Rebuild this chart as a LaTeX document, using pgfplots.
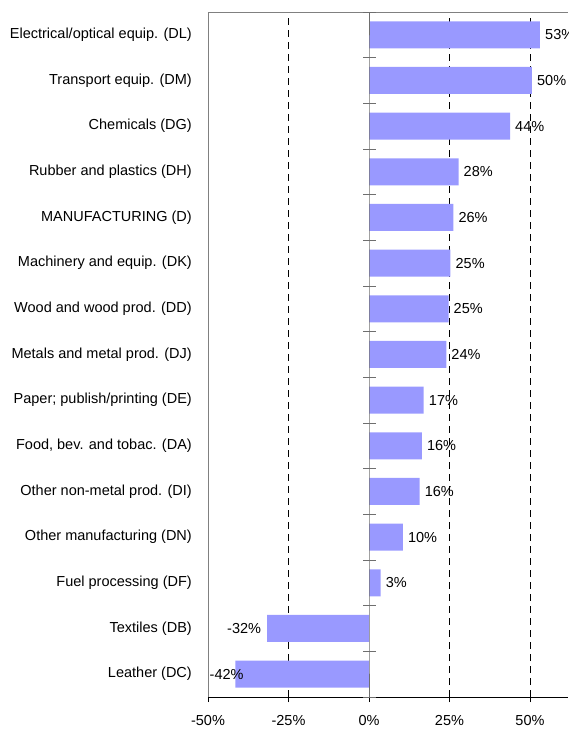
\documentclass[border=0pt]{standalone}
\usepackage{pgfplots}
\pgfplotsset{compat=1.18}
\usepackage{fontspec}
\setmainfont{Liberation Sans}
\definecolor{barblue}{RGB}{153,153,255}
\definecolor{zerogray}{RGB}{110,110,110}
\newcommand{\lblfont}{\fontsize{14.5}{17}\selectfont}
\begin{document}
\begin{tikzpicture}
\begin{axis}[
  scale only axis,
  width=360pt, height=685pt,
  xmin=-50, xmax=61.8,
  ymin=-0.5, ymax=14.5,
  axis x line*=bottom,
  axis y line*=left,
  x axis line style={black},
  y axis line style={gray},
  xtick={-50,-25,0,25,50},
  xticklabels={-50\%,-25\%,0\%,25\%,50\%},
  extra x ticks={-25,25,50},
  extra x tick labels={},
  extra x tick style={grid=major, major grid style={black, dash pattern=on 7pt off 5pt}},
  tick align=outside,
  major tick length=5pt,
  x tick style={black},
  xticklabel style={font=\lblfont, yshift=-10pt},
  ytick={0,...,14},
  y tick style={draw=none},
  yticklabels={Leather (DC),Textiles (DB),Fuel processing (DF),Other manufacturing (DN),Other non-metal prod. (DI),{Food, bev. and tobac. (DA)},Paper; publish/printing (DE),Metals and metal prod. (DJ),Wood and wood prod. (DD),Machinery and equip. (DK),MANUFACTURING (D),Rubber and plastics (DH),Chemicals (DG),Transport equip. (DM),Electrical/optical equip. (DL)},
  yticklabel style={font=\lblfont, inner sep=0pt, xshift=-11pt},
  /pgf/number format/assume math mode=true,
  clip=false,
]
\coordinate (pbl) at (rel axis cs:0,0);
\draw[gray] (rel axis cs:0,1) -- (rel axis cs:1,1);
\addplot[xbar, bar width=27pt, fill=barblue, draw=none] coordinates {
  (-41.5,0) (-31.6,1) (3.6,2) (10.5,3) (15.7,4) (16.4,5) (17.0,6) (24.0,7) (24.7,8) (25.3,9) (26.2,10) (27.8,11) (43.8,12) (50.6,13) (53.1,14)
};
\addplot[zerogray, line width=0.9pt, mark=-, mark size=6.5pt, mark options={solid, zerogray, line width=0.9pt}] coordinates {
  (0,-0.5) (0,0.5) (0,1.5) (0,2.5) (0,3.5) (0,4.5) (0,5.5) (0,6.5) (0,7.5) (0,8.5) (0,9.5) (0,10.5) (0,11.5) (0,12.5) (0,13.5) (0,14.5)
};
\addplot[draw=none, nodes near coords, point meta=explicit symbolic,
  nodes near coords style={anchor=west, inner sep=0pt, xshift=5pt, font=\lblfont}]
  table[meta=label] {
x y label
3.6 2 3\%
10.5 3 10\%
15.7 4 16\%
16.4 5 16\%
17.0 6 17\%
24.0 7 24\%
24.7 8 25\%
25.3 9 25\%
26.2 10 26\%
27.8 11 28\%
43.8 12 44\%
50.6 13 50\%
53.1 14 53\%
};
\addplot[draw=none, nodes near coords, point meta=explicit symbolic,
  nodes near coords style={anchor=east, inner sep=0pt, xshift=-6pt, font=\lblfont}]
  table[meta=label] {
x y label
-31.6 1 -32\%
};
\addplot[draw=none, nodes near coords, point meta=explicit symbolic,
  nodes near coords style={anchor=west, inner sep=0pt, xshift=1.5pt, font=\lblfont}]
  table[meta=label] {
x y label
-50 0 -42\%
};
\end{axis}
\pgfresetboundingbox
\path (pbl) ++(-208pt,-38pt) rectangle ++(568pt,735pt);
\end{tikzpicture}
\end{document}
